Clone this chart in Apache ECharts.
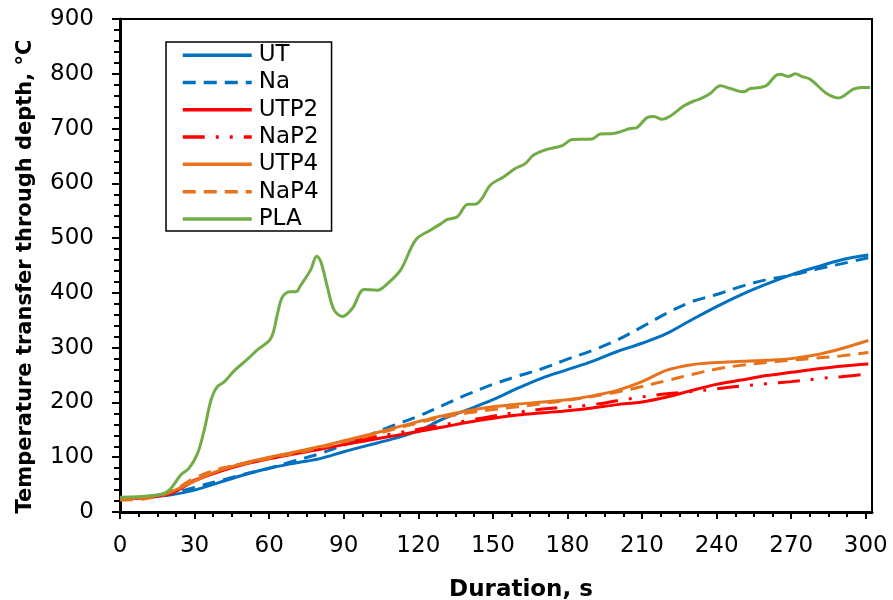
<!DOCTYPE html>
<html>
<head>
<meta charset="utf-8">
<style>
  html, body { margin: 0; padding: 0; background: #fff; }
  #chart { width: 893px; height: 600px; }
</style>
<script src="https://cdn.jsdelivr.net/npm/echarts@6/dist/echarts.min.js"></script>
</head>
<body>
<div id="chart"></div>
<script>
// Sample times (s) shared by the six specimen curves
const timeS = [0, 10, 20, 30, 40, 50, 60, 70, 80, 90, 100, 110, 120, 130, 140, 150,
  160, 170, 180, 190, 200, 210, 220, 230, 240, 250, 260, 270, 280, 290, 301];

// Temperatures (°C) through the depth of each specimen
const UT   = [25, 27, 31, 40, 54, 68, 80, 89, 97, 110, 122, 134, 148, 170, 187, 205,
  226, 245, 260, 275, 293, 308, 326, 351, 375, 397, 416, 433, 447, 460, 469];
const Na   = [24, 27, 33, 45, 57, 69, 80, 93, 106, 122, 140, 158, 175, 195, 215, 233,
  248, 262, 279, 295, 314, 338, 363, 384, 397, 412, 424, 432, 443, 453, 464];
const UTP2 = [24, 27, 33, 57, 74, 87, 97, 106, 114, 123, 131, 139, 147, 155, 164, 171,
  177, 181, 185, 190, 196, 201, 210, 222, 233, 241, 249, 255, 261, 266, 270];
const NaP2 = [24, 26, 34, 58, 76, 89, 99, 108, 117, 126, 135, 143, 151, 159, 167, 175,
  182, 188, 192, 196, 203, 210, 216, 220, 225, 230, 234, 238, 243, 247, 252];
const UTP4 = [24, 27, 36, 57, 76, 89, 100, 109, 119, 130, 141, 153, 165, 176, 185, 192,
  197, 201, 205, 212, 222, 238, 259, 269, 273, 275, 277, 280, 287, 298, 313];
const NaP4 = [22, 24, 36, 62, 79, 88, 98, 107, 117, 128, 139, 151, 163, 173, 181, 187,
  192, 198, 204, 211, 219, 229, 240, 251, 261, 268, 273, 277, 281, 285, 291];

// PLA curve has its own, denser sampling
const plaTime = [0, 15, 19.8, 24.5, 27.8, 31.2, 33.9, 36.6, 39, 42, 46, 51.3, 55, 60.7,
  63.4, 65.4, 68.7, 70.7, 72.7, 76.7, 79.1, 80.8, 83.4, 86.1, 89.5, 93.5, 98.2, 103.5,
  107.6, 112.9, 119, 125, 129, 131.7, 135.7, 140, 143, 145.7, 149, 154.4, 159, 163,
  166.5, 171.8, 177.9, 181.9, 189.9, 193.3, 198.6, 205.3, 208, 212, 214.7, 218, 221.4,
  226.7, 230.7, 233.4, 237.4, 241.5, 245.5, 250.8, 253.5, 257.5, 260.2, 263.6, 265.6,
  268.9, 271.6, 274.3, 277.6, 284.3, 289, 295, 298.4, 301.7];
const PLA = [27, 31, 40, 68, 80, 107, 150, 204, 228, 238, 258, 279, 295, 317,
  363, 393, 402, 402, 414, 442, 467, 457, 411, 369, 357, 372, 406, 405,
  417, 442, 497, 515, 526, 534, 539, 562, 562, 573, 597, 612, 627, 636,
  652, 662, 669, 680, 681, 690, 691, 700, 702, 720, 722, 717, 723,
  741, 750, 754, 764, 778, 773, 767, 773, 775, 779, 796, 799,
  795, 800, 795, 790, 764, 756, 772, 775, 775];

// Axis tick values
const xMajorTicks = [0, 30, 60, 90, 120, 150, 180, 210, 240, 270, 300];
const xMinorTicks = [7.5, 15, 22.5, 37.5, 45, 52.5, 67.5, 75, 82.5, 97.5, 105, 112.5,
  127.5, 135, 142.5, 157.5, 165, 172.5, 187.5, 195, 202.5, 217.5, 225, 232.5,
  247.5, 255, 262.5, 277.5, 285, 292.5];

const FONT = 'DejaVu Sans';
const zip = (t, v) => t.map((x, i) => [x, v[i]]);

function lineSeries(name, t, v, color, dash) {
  return {
    name: name,
    type: 'line',
    data: zip(t, v),
    smooth: 0.35,
    symbol: 'none',
    lineStyle: { color: color, width: 3, type: dash || 'solid' },
    itemStyle: { color: color },
    emphasis: { disabled: true },
    z: 3
  };
}

const chart = echarts.init(document.getElementById('chart'), null, { renderer: 'canvas' });

chart.setOption({
  animation: false,
  backgroundColor: '#fff',
  grid: {
    left: 120, right: 21, top: 19, bottom: 88,
    outerBoundsMode: 'none',
    containLabel: false,
    show: true, borderColor: '#000', borderWidth: 2, backgroundColor: 'transparent'
  },
  legend: {
    orient: 'vertical',
    left: 166, top: 42,
    padding: [1, 13, 0, 15],
    itemWidth: 69, itemHeight: 14, itemGap: 3,
    borderColor: '#000', borderWidth: 1.5,
    backgroundColor: '#fff',
    itemStyle: { opacity: 0 },
    lineStyle: { width: 3.5 },
    textStyle: { fontFamily: FONT, fontSize: 23, color: '#000', lineHeight: 24.3, padding: [0, 0, 0, 2] },
    data: ['UT', 'Na', 'UTP2', 'NaP2', 'UTP4', 'NaP4', 'PLA']
  },
  xAxis: [{
    type: 'value',
    min: 0, max: 302.5,
    interval: 30,
    name: 'Duration, s',
    nameLocation: 'middle',
    nameGap: 67,
    nameTextStyle: { fontFamily: FONT, fontSize: 23, fontWeight: 'bold', color: '#000', padding: [0, 0, 0, 50] },
    axisLine: { show: true, onZero: false, lineStyle: { color: '#000', width: 3 } },
    axisTick: { show: true, inside: false, length: 7, customValues: xMajorTicks, lineStyle: { color: '#000', width: 2 } },
    axisLabel: { customValues: xMajorTicks, fontFamily: FONT, fontSize: 23, color: '#000', margin: 23 },
    splitLine: { show: false }
  }, {
    // minor ticks every 7.5 s
    type: 'value',
    min: 0, max: 302.5,
    position: 'bottom',
    axisLine: { show: false },
    axisTick: { show: true, inside: false, length: 5, customValues: xMinorTicks, lineStyle: { color: '#000', width: 2 } },
    axisLabel: { show: false },
    splitLine: { show: false }
  }],
  yAxis: {
    type: 'value',
    min: 0, max: 900,
    interval: 100,
    name: 'Temperature transfer through depth, °C',
    nameLocation: 'middle',
    nameGap: 84,
    nameTextStyle: { fontFamily: FONT, fontSize: 21, fontWeight: 'bold', color: '#000', padding: [0, 22, 0, 0] },
    axisLine: { show: true, onZero: false, lineStyle: { color: '#000', width: 3 } },
    axisTick: { show: true, inside: false, length: 8, lineStyle: { color: '#000', width: 2 } },
    minorTick: { show: true, splitNumber: 5, length: 6, lineStyle: { color: '#000', width: 2 } },
    axisLabel: { fontFamily: FONT, fontSize: 23, color: '#000', margin: 26 },
    splitLine: { show: false }
  },
  series: [
    lineSeries('UT', timeS, UT, '#0070C0'),
    lineSeries('Na', timeS, Na, '#0070C0', [13, 8]),
    lineSeries('UTP2', timeS, UTP2, '#FF0000'),
    lineSeries('NaP2', timeS, NaP2, '#FF0000', [22, 11, 3, 11, 3, 11]),
    lineSeries('UTP4', timeS, UTP4, '#E8731C'),
    lineSeries('NaP4', timeS, NaP4, '#E8731C', [13, 8]),
    lineSeries('PLA', plaTime, PLA, '#70AD47')
  ]
});
</script>
</body>
</html>
